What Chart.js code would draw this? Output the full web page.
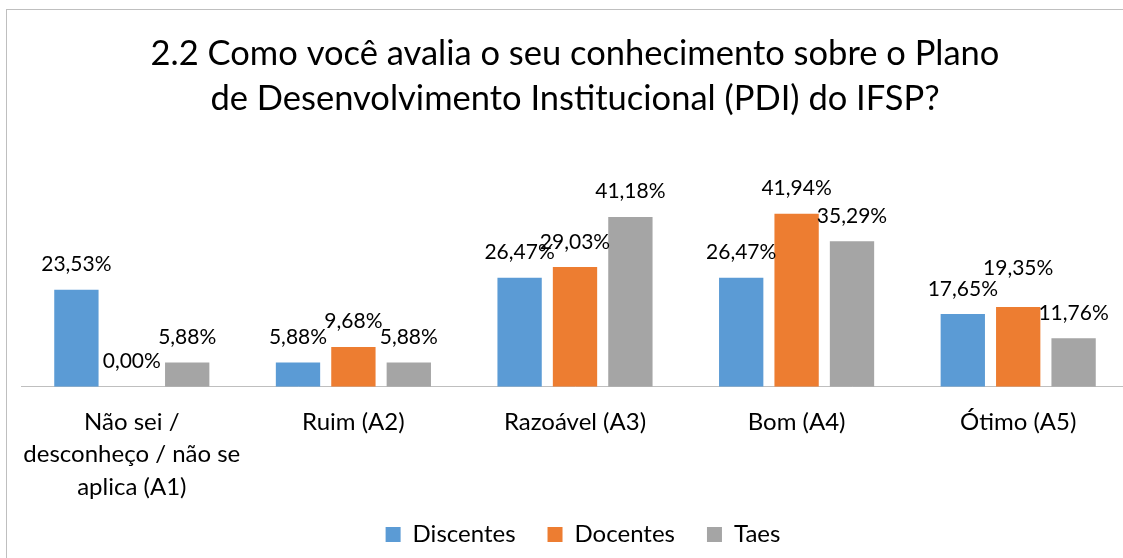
<!DOCTYPE html>
<html>
<head>
<meta charset="utf-8">
<script src="https://cdn.jsdelivr.net/npm/chart.js@4.4.1/dist/chart.umd.min.js"></script>
<style>
html,body{margin:0;padding:0;background:#fff;overflow:hidden;width:1123px;height:558px;}
#wrap{position:absolute;left:0;top:0;width:1134px;height:588px;}
</style>
</head>
<body>
<div id="wrap"><canvas id="c"></canvas></div>
<script>
const titleLines = ['2.2 Como você avalia o seu conhecimento sobre o Plano', 'de Desenvolvimento Institucional (PDI) do IFSP?'];
const categories = [['Não sei /', 'desconheço / não se', 'aplica (A1)'], 'Ruim (A2)', 'Razoável (A3)', 'Bom (A4)', 'Ótimo (A5)'];
const seriesNames = ['Discentes', 'Docentes', 'Taes'];
const discentes = [23.53, 5.88, 26.47, 26.47, 17.65];
const docentes = [0.00, 9.68, 29.03, 41.94, 19.35];
const taes = [5.88, 5.88, 41.18, 35.29, 11.76];
const colors = ['#5B9BD5', '#ED7D31', '#A5A5A5'];
const FONT = 'Lato';
// extra lift (px) for labels the original moved to avoid overlap: "datasetIndex-categoryIndex"
const labelLift = { '1-4': 13 };

const borderPlugin = {
  id: 'frame',
  beforeDraw(chart) {
    const ctx = chart.ctx;
    ctx.save();
    ctx.fillStyle = '#fff';
    ctx.fillRect(0, 0, chart.width, chart.height);
    ctx.strokeStyle = '#BFBFBF';
    ctx.lineWidth = 1;
    ctx.strokeRect(6.5, 9.5, 1200, 700);
    ctx.restore();
  },
  afterLayout(chart) {
    const lg = chart.legend;
    if (lg) {
      const target = 534.5;
      const cur = lg.top + lg.options.labels.padding + 12;
      const dy = cur - target;
      lg.top -= dy; lg.bottom -= dy;
      lg.left += 8; lg.right += 8;
    }
  }
};

const labelPlugin = {
  id: 'valueLabels',
  afterDatasetsDraw(chart) {
    const ctx = chart.ctx;
    ctx.save();
    ctx.font = '21px ' + FONT;
    ctx.fillStyle = '#000';
    ctx.textAlign = 'center';
    ctx.textBaseline = 'alphabetic';
    chart.data.datasets.forEach((ds, i) => {
      const meta = chart.getDatasetMeta(i);
      meta.data.forEach((bar, j) => {
        const v = ds.data[j];
        const txt = v.toFixed(2).replace('.', ',') + '%';
        const lift = labelLift[i + '-' + j] || 0;
        ctx.fillText(txt, bar.x, bar.y - 18.5 - lift);
      });
    });
    ctx.restore();
  }
};

new Chart(document.getElementById('c'), {
  type: 'bar',
  data: {
    labels: categories,
    datasets: [
      { label: seriesNames[0], data: discentes, backgroundColor: colors[0] },
      { label: seriesNames[1], data: docentes, backgroundColor: colors[1] },
      { label: seriesNames[2], data: taes, backgroundColor: colors[2] }
    ]
  },
  options: {
    responsive: true,
    maintainAspectRatio: false,
    animation: false,
    devicePixelRatio: 1,
    categoryPercentage: 0.75,
    barPercentage: 0.8,
    layout: { padding: { left: 21, right: 5, top: 0, bottom: 0 } },
    scales: {
      x: {
        grid: { display: false, drawTicks: false },
        border: { display: true, color: '#BFBFBF', width: 1 },
        ticks: { color: '#000', font: { family: FONT, size: 24, lineHeight: 1.35 }, padding: 19, maxRotation: 0, autoSkip: false }
      },
      y: {
        display: false,
        min: 0,
        max: 45
      }
    },
    plugins: {
      title: {
        display: true,
        text: titleLines,
        color: '#000',
        font: { family: FONT, size: 34.5, weight: 'normal', lineHeight: 1.3 },
        padding: { top: 31.5, bottom: 80 }
      },
      legend: {
        position: 'bottom',
        labels: { color: '#000', font: { family: FONT, size: 24 }, boxWidth: 15, boxHeight: 15, padding: 32 }
      },
      tooltip: { enabled: false }
    }
  },
  plugins: [borderPlugin, labelPlugin]
});
</script>
</body>
</html>
